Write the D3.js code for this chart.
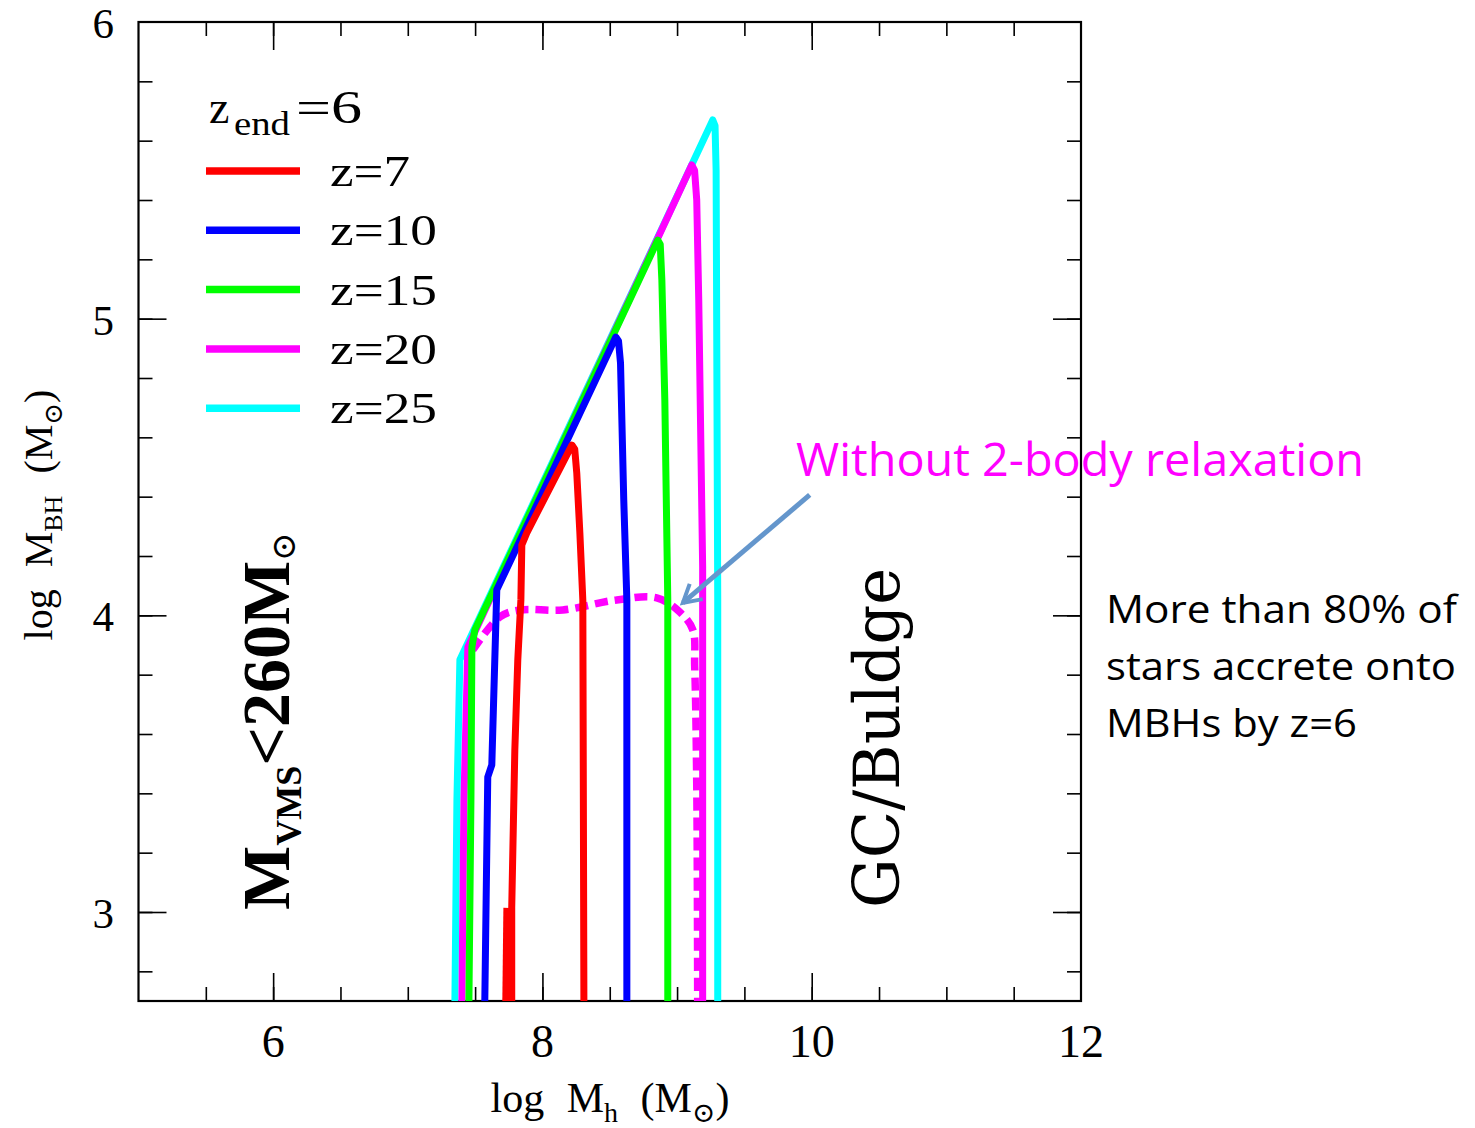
<!DOCTYPE html>
<html>
<head>
<meta charset="utf-8">
<script src="https://cdn.jsdelivr.net/npm/d3@7"></script>
<style>
  body { margin: 0; background: #fff; }
  svg text { fill: #000; }
  .serif { font-family: "Liberation Serif", "DejaVu Serif", serif; }
  .dserif { font-family: "DejaVu Serif", "Liberation Serif", serif; }
  .sans { font-family: "Open Sans", "Lato", sans-serif; }
  .tick line { stroke: #000; stroke-width: 1.6; }
</style>
</head>
<body>
<div id="chart"></div>
<script>
// ---- data (log Mh, log MBH) ----
var xTickLabels = [6, 8, 10, 12];
var yTickLabels = [3, 4, 5, 6];
var seriesNames = ["z=7", "z=10", "z=15", "z=20", "z=25"];

var z7 = [[7.772,2.70],[7.772,3.014],[7.795,3.546],[7.817,3.850],[7.840,4.052],[7.847,4.237],
  [7.884,4.278],[8.219,4.574],[8.240,4.560],[8.255,4.480],[8.278,4.278],[8.300,4.052],[8.308,2.70]];
var z7stub = [[7.728,2.70],[7.736,3.014]];
var z10 = [[7.572,2.70],[7.594,3.455],[7.624,3.496],[7.661,4.086],[8.545,4.938],[8.565,4.925],
  [8.580,4.850],[8.604,4.389],[8.627,4.052],[8.627,2.70]];
var z15 = [[7.454,2.70],[7.469,3.378],[7.476,3.893],[7.498,3.951],[8.857,5.265],[8.875,5.250],
  [8.887,5.130],[8.909,4.726],[8.931,4.052],[8.931,2.70]];
var z20 = [[7.402,2.70],[7.417,3.378],[7.446,3.893],[9.109,5.518],[9.130,5.500],[9.146,5.400],
  [9.161,5.063],[9.190,4.163],[9.190,2.70]];
var z25 = [[7.350,2.70],[7.365,3.378],[7.387,3.850],[9.265,5.670],[9.282,5.650],[9.290,5.500],
  [9.302,4.052],[9.302,2.70]];
// z=20 run without 2-body relaxation (dashed)
var z20noRelax = [[7.483,3.883],[7.684,3.995],[7.832,4.018],[8.151,4.018],[8.552,4.052],
  [8.849,4.059],[9.020,4.011],[9.117,3.951],[9.131,3.826],[9.146,3.435],[9.153,2.70]];
// annotation arrow (from text towards dashed curve)
var arrowPts = [[9.985,4.406],[9.043,4.042]];

var colors = ["#ff0000", "#0000ff", "#00ff00", "#ff00ff", "#00ffff"];

var W = 1475, H = 1128;
var pLeft = 138.5, pRight = 1081, pTop = 22, pBottom = 1001;

var svg = d3.select("#chart").append("svg")
  .attr("width", W).attr("height", H);

var x = d3.scaleLinear().domain([5, 12]).range([pLeft, pRight]);
var y = d3.scaleLinear().domain([2.7, 6]).range([pBottom, pTop]);

svg.append("clipPath").attr("id", "clip")
  .append("rect").attr("x", pLeft).attr("y", pTop)
  .attr("width", pRight - pLeft).attr("height", pBottom - pTop);

var line = d3.line().x(function(d){ return x(d[0]); }).y(function(d){ return y(d[1]); });

var xMinor = d3.range(5.5, 12, 0.5), xMajor = [6, 8, 10];
var yMinor = d3.range(2.8, 6, 0.2), yMajor = [3, 4, 5];

// ticks on all four sides, pointing inward
function ticks(axisFn, scale, vals, size, tr) {
  var g = svg.append("g").attr("transform", tr)
    .call(axisFn(scale).tickValues(vals).tickSize(-size).tickFormat(""));
  g.select(".domain").remove();
}
ticks(d3.axisBottom, x, xMinor, 14, "translate(0," + pBottom + ")");
ticks(d3.axisBottom, x, xMajor, 28, "translate(0," + pBottom + ")");
ticks(d3.axisTop, x, xMinor, 14, "translate(0," + pTop + ")");
ticks(d3.axisTop, x, xMajor, 28, "translate(0," + pTop + ")");
ticks(d3.axisLeft, y, yMinor, 14, "translate(" + pLeft + ",0)");
ticks(d3.axisLeft, y, yMajor, 28, "translate(" + pLeft + ",0)");
ticks(d3.axisRight, y, yMinor, 14, "translate(" + pRight + ",0)");
ticks(d3.axisRight, y, yMajor, 28, "translate(" + pRight + ",0)");

svg.append("rect").attr("x", pLeft).attr("y", pTop)
  .attr("width", pRight - pLeft).attr("height", pBottom - pTop)
  .attr("fill", "none").attr("stroke", "#000").attr("stroke-width", 2.2);

// tick labels
svg.selectAll(".xlab").data(xTickLabels).enter().append("text")
  .attr("class", "serif").attr("x", function(d){ return x(d); }).attr("y", 1057)
  .attr("text-anchor", "middle").attr("font-size", 46).text(function(d){ return d; });
svg.selectAll(".ylab").data(yTickLabels).enter().append("text")
  .attr("class", "serif").attr("x", 114).attr("y", function(d){ return y(d) + 16; })
  .attr("text-anchor", "end").attr("font-size", 43).text(function(d){ return d; });

// curves
var plot = svg.append("g").attr("clip-path", "url(#clip)");
plot.append("path").datum(z20noRelax)
  .attr("d", line.curve(d3.curveCatmullRom.alpha(0.5)))
  .attr("fill", "none").attr("stroke", colors[3]).attr("stroke-width", 7.5)
  .attr("stroke-dasharray", "13,7");
line.curve(d3.curveLinear);

var allSeries = [z7, z10, z15, z20, z25];
for (var i = allSeries.length - 1; i >= 0; i--) {
  plot.append("path").datum(allSeries[i]).attr("d", line)
    .attr("fill", "none").attr("stroke", colors[i]).attr("stroke-width", 7)
    .attr("stroke-linejoin", "round");
}
plot.append("path").datum(z7stub).attr("d", line)
  .attr("fill", "none").attr("stroke", colors[0]).attr("stroke-width", 7);

// legend
var leg = svg.append("text").attr("class", "serif").attr("y", 123).attr("font-size", 46);
leg.append("tspan").attr("x", 209).text("z");
leg.append("tspan").attr("x", 234).attr("font-size", 34).attr("dy", 12)
  .attr("textLength", 56).attr("lengthAdjust", "spacingAndGlyphs").text("end");
leg.append("tspan").attr("x", 296).attr("dy", -12)
  .attr("textLength", 66).attr("lengthAdjust", "spacingAndGlyphs").text("=6");

seriesNames.forEach(function(name, i) {
  var ly = 171 + i * 59.3;
  svg.append("line").attr("x1", 206).attr("x2", 300).attr("y1", ly).attr("y2", ly)
    .attr("stroke", colors[i]).attr("stroke-width", 7.5);
  svg.append("text").attr("class", "serif").attr("x", 330).attr("y", ly + 15)
    .attr("font-size", 44).attr("textLength", name.length > 3 ? 107 : 80)
    .attr("lengthAdjust", "spacingAndGlyphs").text(name);
});

// axis titles
var xt = svg.append("text").attr("class", "serif").attr("x", 610).attr("y", 1112)
  .attr("text-anchor", "middle").attr("font-size", 42).attr("word-spacing", 12);
xt.append("tspan").text("log M");
xt.append("tspan").attr("font-size", 28).attr("dy", 10).text("h");
xt.append("tspan").attr("dy", -10).text(" (M");
xt.append("tspan").attr("font-size", 28).attr("dy", 10).text("\u2299");
xt.append("tspan").attr("dy", -10).text(")");

var yt = svg.append("text").attr("class", "serif")
  .attr("transform", "translate(52,515) rotate(-90)")
  .attr("text-anchor", "middle").attr("font-size", 40).attr("word-spacing", 12);
yt.append("tspan").text("log M");
yt.append("tspan").attr("font-size", 26).attr("dy", 10).text("BH");
yt.append("tspan").attr("dy", -10).text(" (M");
yt.append("tspan").attr("font-size", 26).attr("dy", 10).text("\u2299");
yt.append("tspan").attr("dy", -10).text(")");

// region labels
var vms = svg.append("text").attr("class", "serif")
  .attr("transform", "translate(289,910) rotate(-90)")
  .attr("font-size", 68).attr("font-weight", "bold");
vms.append("tspan").text("M");
vms.append("tspan").attr("font-size", 36).attr("dy", 12).text("VMS");
vms.append("tspan").attr("dy", -12).text("<260M");
vms.append("tspan").attr("font-size", 34).attr("dy", 6).attr("font-weight", "normal").text("\u2299");

svg.append("text").attr("class", "dserif")
  .attr("transform", "translate(899,908) rotate(-90)")
  .attr("font-size", 64).attr("textLength", 340).attr("lengthAdjust", "spacingAndGlyphs")
  .text("GC/Buldge");

// annotation
svg.append("defs").append("marker").attr("id", "head")
  .attr("viewBox", "0 0 10 10").attr("refX", 8).attr("refY", 5)
  .attr("markerWidth", 5).attr("markerHeight", 5).attr("orient", "auto")
  .append("path").attr("d", "M1,1 L8,5 L1,9").attr("fill", "none")
  .attr("stroke", "#6496cc").attr("stroke-width", 1.6);
svg.append("path").datum(arrowPts).attr("d", line)
  .attr("stroke", "#6496cc").attr("stroke-width", 5).attr("fill", "none")
  .attr("marker-end", "url(#head)");

svg.append("text").attr("class", "sans").attr("x", 796).attr("y", 476)
  .attr("font-size", 45).style("fill", "#ff00ff")
  .attr("textLength", 568).attr("lengthAdjust", "spacingAndGlyphs")
  .text("Without 2-body relaxation");

var noteLines = ["More than 80% of", "stars accrete onto", "MBHs by z=6"];
var noteW = [351, 350, 251];
noteLines.forEach(function(t, i) {
  svg.append("text").attr("class", "sans").attr("x", 1106).attr("y", 623 + i * 57)
    .attr("font-size", 39).attr("textLength", noteW[i]).attr("lengthAdjust", "spacingAndGlyphs")
    .text(t);
});
</script>
</body>
</html>
